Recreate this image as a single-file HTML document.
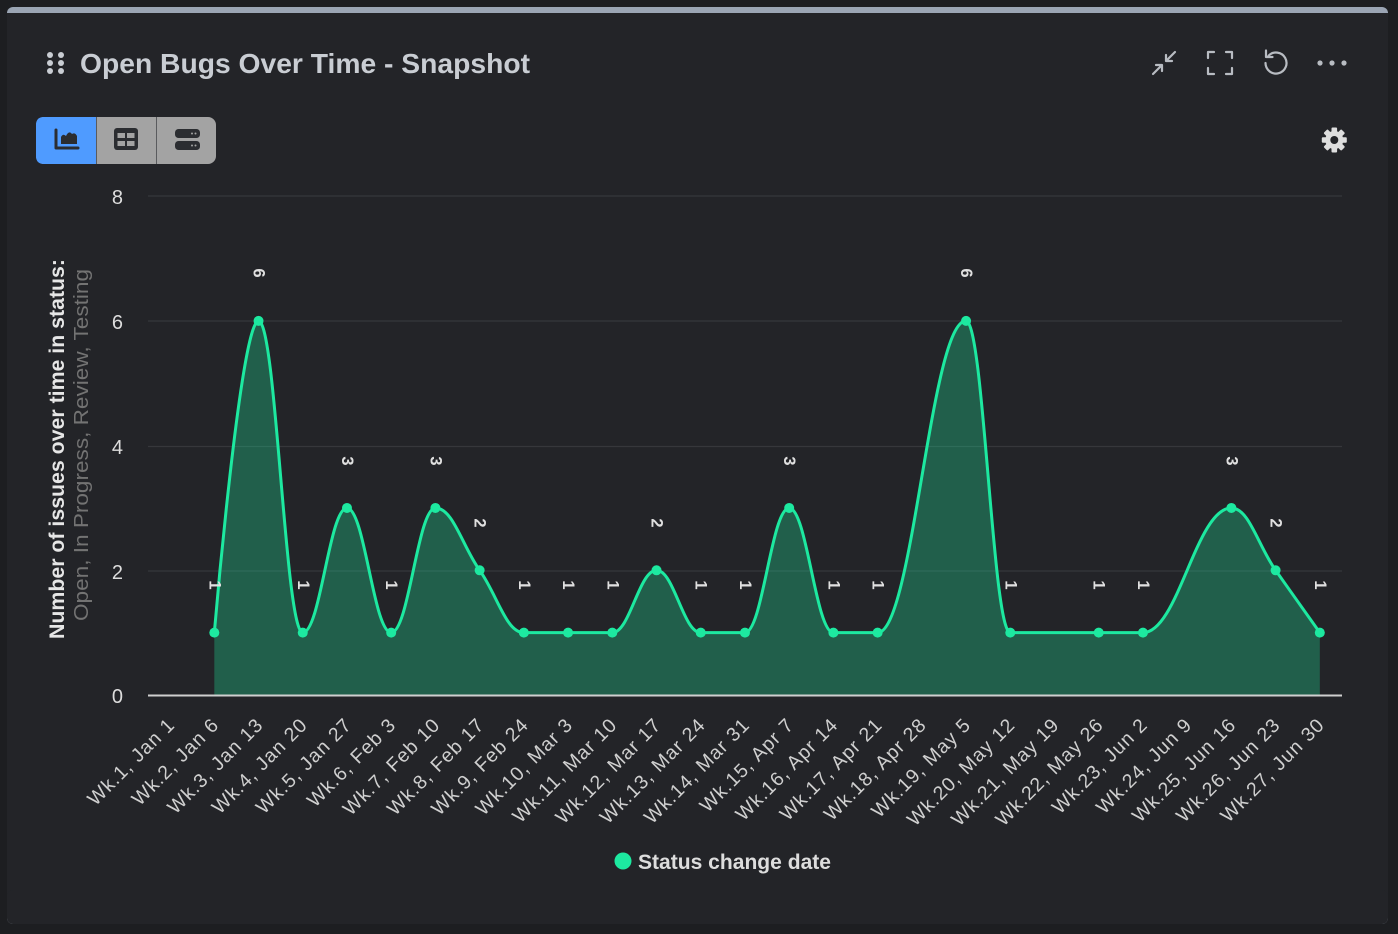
<!DOCTYPE html>
<html>
<head>
<meta charset="utf-8">
<style>
html,body{margin:0;padding:0;background:#1d1e21;}
svg{display:block;}
text{font-family:"Liberation Sans",sans-serif;}
</style>
</head>
<body>
<svg width="1398" height="934" viewBox="0 0 1398 934" xmlns="http://www.w3.org/2000/svg">
  <rect x="0" y="0" width="1398" height="934" fill="#1d1e21"/>
  <!-- panel -->
  <rect x="7" y="7" width="1381" height="917" rx="6" fill="#9ba5b4"/>
  <rect x="7" y="13" width="1381" height="895" fill="#232428"/>
  <rect x="7" y="890" width="1381" height="34" rx="6" fill="#232428"/>

  <!-- drag handle -->
  <g fill="#c9cdd3">
    <circle cx="50" cy="55" r="3"/><circle cx="61" cy="55" r="3"/>
    <circle cx="50" cy="63" r="3"/><circle cx="61" cy="63" r="3"/>
    <circle cx="50" cy="71" r="3"/><circle cx="61" cy="71" r="3"/>
  </g>
  <text x="80" y="73" font-size="28" font-weight="bold" fill="#c9cdd3" textLength="450" lengthAdjust="spacingAndGlyphs">Open Bugs Over Time - Snapshot</text>

  <!-- top-right icons -->
  <g stroke="#b8bcc2" stroke-width="2.2" fill="none" stroke-linecap="round" stroke-linejoin="round">
    <path d="M1175 52 L1166 61 M1166 55 L1166 61 L1172 61"/>
    <path d="M1153 74 L1162 65 M1156 65 L1162 65 L1162 71"/>
    <path d="M1208 58 L1208 52 L1214 52 M1226 52 L1232 52 L1232 58 M1232 68 L1232 74 L1226 74 M1214 74 L1208 74 L1208 68"/>
    <path d="M1265.5 63 A 10.5 10.5 0 1 0 1268.6 55.6"/>
    <path d="M1266 50.5 L1266 57 L1272.5 57"/>
  </g>
  <g fill="#b8bcc2">
    <circle cx="1320" cy="63" r="2.6"/><circle cx="1332" cy="63" r="2.6"/><circle cx="1344" cy="63" r="2.6"/>
  </g>

  <!-- button group -->
  <rect x="36" y="117" width="180" height="47" rx="8" fill="#a3a3a3"/>
  <path d="M44 117 L96 117 L96 164 L44 164 Q36 164 36 156 L36 125 Q36 117 44 117 Z" fill="#4f9bff"/>
  <rect x="96" y="117" width="1" height="47" fill="#5a5b5e"/>
  <rect x="156" y="117" width="1" height="47" fill="#5a5b5e"/>
  <!-- chart icon -->
  <path d="M56 130 L56 148 L78 148" stroke="#2b2d31" stroke-width="3" fill="none" stroke-linecap="round" stroke-linejoin="round"/>
  <path d="M61 144 L61 137 Q63 133 66 136 Q69 130 72 134 Q75 132 77 136 L77 144 Z" fill="#2b2d31"/>
  <!-- table icon -->
  <rect x="114" y="128" width="24" height="22" rx="3" fill="#2b2d31"/>
  <g fill="#a3a3a3">
    <rect x="117.5" y="133" width="7.5" height="5"/><rect x="127" y="133" width="7.5" height="5"/>
    <rect x="117.5" y="141" width="7.5" height="5"/><rect x="127" y="141" width="7.5" height="5"/>
  </g>
  <!-- stack icon -->
  <rect x="175" y="129" width="25" height="9" rx="3.5" fill="#2b2d31"/>
  <rect x="175" y="141" width="25" height="9" rx="3.5" fill="#2b2d31"/>
  <g fill="#a3a3a3">
    <circle cx="192" cy="133.5" r="1"/><circle cx="195.5" cy="133.5" r="1"/>
    <circle cx="192" cy="145.5" r="1"/><circle cx="195.5" cy="145.5" r="1"/>
  </g>

  <!-- gear -->
  <g transform="translate(1334.3,140)" fill="#dedede">
    <circle r="9"/>
    <rect x="-2.8" y="-12.5" width="5.6" height="25" rx="1"/>
    <rect x="-2.8" y="-12.5" width="5.6" height="25" rx="1" transform="rotate(45)"/>
    <rect x="-2.8" y="-12.5" width="5.6" height="25" rx="1" transform="rotate(90)"/>
    <rect x="-2.8" y="-12.5" width="5.6" height="25" rx="1" transform="rotate(135)"/>
    <circle r="4" fill="#232428"/>
  </g>

  <!-- gridlines -->
  <g stroke="#36373b" stroke-width="1.2">
    <line x1="148" y1="196" x2="1342" y2="196"/>
    <line x1="148" y1="321" x2="1342" y2="321"/>
    <line x1="148" y1="446.5" x2="1342" y2="446.5"/>
    <line x1="148" y1="571" x2="1342" y2="571"/>
  </g>

  <!-- y tick labels -->
  <g font-size="20" fill="#dddddd" text-anchor="end">
    <text x="123" y="204">8</text>
    <text x="123" y="329">6</text>
    <text x="123" y="454">4</text>
    <text x="123" y="579">2</text>
    <text x="123" y="703">0</text>
  </g>

  <!-- y axis title -->
  <text transform="translate(64,449) rotate(-90)" text-anchor="middle" font-size="21" font-weight="bold" fill="#e6e6e6" textLength="380" lengthAdjust="spacingAndGlyphs">Number of issues over time in status:</text>
  <text transform="translate(88,445) rotate(-90)" text-anchor="middle" font-size="20" fill="#737373" textLength="352" lengthAdjust="spacingAndGlyphs">Open, In Progress, Review, Testing</text>

  <!-- area -->
  <path d="M214.32 695 L214.32 632.65 C214.32 632.65 240.85 320.9 258.54 320.9 C276.23 320.9 285.07 632.65 302.76 632.65 C320.45 632.65 329.29 507.95 346.98 507.95 C364.67 507.95 373.51 632.65 391.2 632.65 C408.89 632.65 417.73 507.95 435.42 507.95 C453.11 507.95 461.95 545.36 479.64 570.3 C497.33 595.24 506.17 632.65 523.86 632.65 C541.55 632.65 550.39 632.65 568.08 632.65 C585.77 632.65 594.61 632.65 612.3 632.65 C629.99 632.65 638.83 570.3 656.52 570.3 C674.21 570.3 683.05 632.65 700.74 632.65 C718.43 632.65 727.27 632.65 744.96 632.65 C762.65 632.65 771.49 507.95 789.18 507.95 C806.87 507.95 815.71 632.65 833.4 632.65 C851.09 632.65 859.93 632.65 877.62 632.65 C913 632.65 930.68 320.9 966.06 320.9 C983.75 320.9 992.59 632.65 1010.28 632.65 C1045.66 632.65 1063.34 632.65 1098.72 632.65 C1116.41 632.65 1125.25 632.65 1142.94 632.65 C1178.32 632.65 1196 507.95 1231.38 507.95 C1249.07 507.95 1257.91 545.36 1275.6 570.3 C1293.29 595.24 1319.82 632.65 1319.82 632.65 L1319.82 695 Z" fill="#1de9a0" fill-opacity="0.3"/>

  <!-- axis line -->
  <line x1="148" y1="695.5" x2="1342" y2="695.5" stroke="#cfcfcf" stroke-width="2"/>

  <!-- line -->
  <path d="M214.32 632.65 C214.32 632.65 240.85 320.9 258.54 320.9 C276.23 320.9 285.07 632.65 302.76 632.65 C320.45 632.65 329.29 507.95 346.98 507.95 C364.67 507.95 373.51 632.65 391.2 632.65 C408.89 632.65 417.73 507.95 435.42 507.95 C453.11 507.95 461.95 545.36 479.64 570.3 C497.33 595.24 506.17 632.65 523.86 632.65 C541.55 632.65 550.39 632.65 568.08 632.65 C585.77 632.65 594.61 632.65 612.3 632.65 C629.99 632.65 638.83 570.3 656.52 570.3 C674.21 570.3 683.05 632.65 700.74 632.65 C718.43 632.65 727.27 632.65 744.96 632.65 C762.65 632.65 771.49 507.95 789.18 507.95 C806.87 507.95 815.71 632.65 833.4 632.65 C851.09 632.65 859.93 632.65 877.62 632.65 C913 632.65 930.68 320.9 966.06 320.9 C983.75 320.9 992.59 632.65 1010.28 632.65 C1045.66 632.65 1063.34 632.65 1098.72 632.65 C1116.41 632.65 1125.25 632.65 1142.94 632.65 C1178.32 632.65 1196 507.95 1231.38 507.95 C1249.07 507.95 1257.91 545.36 1275.6 570.3 C1293.29 595.24 1319.82 632.65 1319.82 632.65" fill="none" stroke="#1de9a0" stroke-width="3" stroke-linejoin="round" stroke-linecap="round"/>

  <!-- markers -->
  <g fill="#1de9a0">
    <circle cx="214.32" cy="632.65" r="5"/>
    <circle cx="258.54" cy="320.9" r="5"/>
    <circle cx="302.76" cy="632.65" r="5"/>
    <circle cx="346.98" cy="507.95" r="5"/>
    <circle cx="391.2" cy="632.65" r="5"/>
    <circle cx="435.42" cy="507.95" r="5"/>
    <circle cx="479.64" cy="570.3" r="5"/>
    <circle cx="523.86" cy="632.65" r="5"/>
    <circle cx="568.08" cy="632.65" r="5"/>
    <circle cx="612.3" cy="632.65" r="5"/>
    <circle cx="656.52" cy="570.3" r="5"/>
    <circle cx="700.74" cy="632.65" r="5"/>
    <circle cx="744.96" cy="632.65" r="5"/>
    <circle cx="789.18" cy="507.95" r="5"/>
    <circle cx="833.4" cy="632.65" r="5"/>
    <circle cx="877.62" cy="632.65" r="5"/>
    <circle cx="966.06" cy="320.9" r="5"/>
    <circle cx="1010.28" cy="632.65" r="5"/>
    <circle cx="1098.72" cy="632.65" r="5"/>
    <circle cx="1142.94" cy="632.65" r="5"/>
    <circle cx="1231.38" cy="507.95" r="5"/>
    <circle cx="1275.6" cy="570.3" r="5"/>
    <circle cx="1319.82" cy="632.65" r="5"/>
  </g>

  <!-- data labels -->
  <g font-size="16.5" font-weight="bold" fill="#e0e0e0" text-anchor="middle" dominant-baseline="central">
    <text x="214.3" y="585" transform="rotate(90 214.3 585)">1</text>
    <text x="258.5" y="273" transform="rotate(90 258.5 273)">6</text>
    <text x="302.8" y="585" transform="rotate(90 302.8 585)">1</text>
    <text x="347" y="461" transform="rotate(90 347 461)">3</text>
    <text x="391.2" y="585" transform="rotate(90 391.2 585)">1</text>
    <text x="435.4" y="461" transform="rotate(90 435.4 461)">3</text>
    <text x="479.6" y="523" transform="rotate(90 479.6 523)">2</text>
    <text x="523.9" y="585" transform="rotate(90 523.9 585)">1</text>
    <text x="568.1" y="585" transform="rotate(90 568.1 585)">1</text>
    <text x="612.3" y="585" transform="rotate(90 612.3 585)">1</text>
    <text x="656.5" y="523" transform="rotate(90 656.5 523)">2</text>
    <text x="700.7" y="585" transform="rotate(90 700.7 585)">1</text>
    <text x="745" y="585" transform="rotate(90 745 585)">1</text>
    <text x="789.2" y="461" transform="rotate(90 789.2 461)">3</text>
    <text x="833.4" y="585" transform="rotate(90 833.4 585)">1</text>
    <text x="877.6" y="585" transform="rotate(90 877.6 585)">1</text>
    <text x="966.1" y="273" transform="rotate(90 966.1 273)">6</text>
    <text x="1010.3" y="585" transform="rotate(90 1010.3 585)">1</text>
    <text x="1098.7" y="585" transform="rotate(90 1098.7 585)">1</text>
    <text x="1142.9" y="585" transform="rotate(90 1142.9 585)">1</text>
    <text x="1231.4" y="461" transform="rotate(90 1231.4 461)">3</text>
    <text x="1275.6" y="523" transform="rotate(90 1275.6 523)">2</text>
    <text x="1319.8" y="585" transform="rotate(90 1319.8 585)">1</text>
  </g>

  <!-- x axis labels -->
  <g font-size="19.5" fill="#cfcfcf" text-anchor="end" letter-spacing="1">
    <text x="176" y="726" transform="rotate(-45 176 726)">Wk.1, Jan 1</text>
    <text x="220.2" y="726" transform="rotate(-45 220.2 726)">Wk.2, Jan 6</text>
    <text x="264.4" y="726" transform="rotate(-45 264.4 726)">Wk.3, Jan 13</text>
    <text x="308.7" y="726" transform="rotate(-45 308.7 726)">Wk.4, Jan 20</text>
    <text x="352.9" y="726" transform="rotate(-45 352.9 726)">Wk.5, Jan 27</text>
    <text x="397.1" y="726" transform="rotate(-45 397.1 726)">Wk.6, Feb 3</text>
    <text x="441.3" y="726" transform="rotate(-45 441.3 726)">Wk.7, Feb 10</text>
    <text x="485.5" y="726" transform="rotate(-45 485.5 726)">Wk.8, Feb 17</text>
    <text x="529.8" y="726" transform="rotate(-45 529.8 726)">Wk.9, Feb 24</text>
    <text x="574" y="726" transform="rotate(-45 574 726)">Wk.10, Mar 3</text>
    <text x="618.2" y="726" transform="rotate(-45 618.2 726)">Wk.11, Mar 10</text>
    <text x="662.4" y="726" transform="rotate(-45 662.4 726)">Wk.12, Mar 17</text>
    <text x="706.6" y="726" transform="rotate(-45 706.6 726)">Wk.13, Mar 24</text>
    <text x="750.9" y="726" transform="rotate(-45 750.9 726)">Wk.14, Mar 31</text>
    <text x="795.1" y="726" transform="rotate(-45 795.1 726)">Wk.15, Apr 7</text>
    <text x="839.3" y="726" transform="rotate(-45 839.3 726)">Wk.16, Apr 14</text>
    <text x="883.5" y="726" transform="rotate(-45 883.5 726)">Wk.17, Apr 21</text>
    <text x="927.7" y="726" transform="rotate(-45 927.7 726)">Wk.18, Apr 28</text>
    <text x="972" y="726" transform="rotate(-45 972 726)">Wk.19, May 5</text>
    <text x="1016.2" y="726" transform="rotate(-45 1016.2 726)">Wk.20, May 12</text>
    <text x="1060.4" y="726" transform="rotate(-45 1060.4 726)">Wk.21, May 19</text>
    <text x="1104.6" y="726" transform="rotate(-45 1104.6 726)">Wk.22, May 26</text>
    <text x="1148.8" y="726" transform="rotate(-45 1148.8 726)">Wk.23, Jun 2</text>
    <text x="1193.1" y="726" transform="rotate(-45 1193.1 726)">Wk.24, Jun 9</text>
    <text x="1237.3" y="726" transform="rotate(-45 1237.3 726)">Wk.25, Jun 16</text>
    <text x="1281.5" y="726" transform="rotate(-45 1281.5 726)">Wk.26, Jun 23</text>
    <text x="1325.7" y="726" transform="rotate(-45 1325.7 726)">Wk.27, Jun 30</text>
  </g>

  <!-- legend -->
  <circle cx="623" cy="861" r="8.5" fill="#1de9a0"/>
  <text x="638" y="869" font-size="21" font-weight="bold" fill="#dddddd" textLength="193" lengthAdjust="spacingAndGlyphs">Status change date</text>
</svg>
</body>
</html>
